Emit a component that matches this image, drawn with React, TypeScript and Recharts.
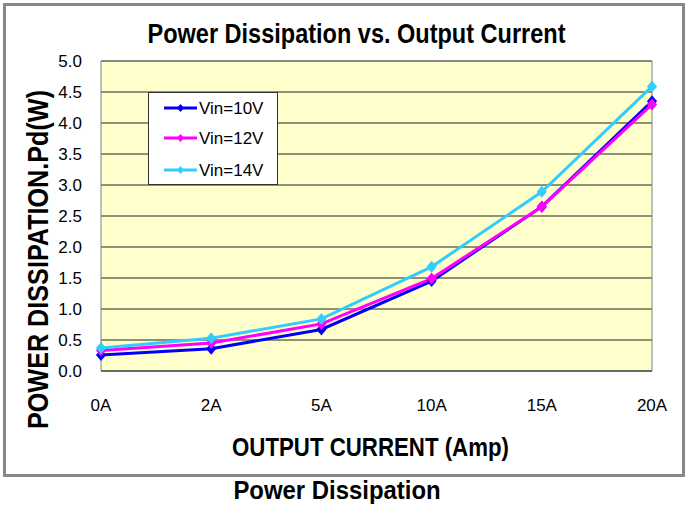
import React from 'react';
import { LineChart, Line, XAxis, YAxis, CartesianGrid, Legend, ReferenceLine } from 'recharts';

const categories = ['0A', '2A', '5A', '10A', '15A', '20A'];
const vin10 = [0.26, 0.36, 0.67, 1.45, 2.65, 4.35];
const vin12 = [0.33, 0.45, 0.76, 1.49, 2.65, 4.3];
const vin14 = [0.37, 0.53, 0.84, 1.68, 2.89, 4.59];
const yTicks = [0, 0.5, 1, 1.5, 2, 2.5, 3, 3.5, 4, 4.5, 5];

const seriesList = [
  { key: 'v10', name: 'Vin=10V', values: vin10, color: '#0000FF' },
  { key: 'v12', name: 'Vin=12V', values: vin12, color: '#FF00FF' },
  { key: 'v14', name: 'Vin=14V', values: vin14, color: '#33CCFF' },
];

const data = categories.map((c, i) => {
  const row: any = { cat: c };
  seriesList.forEach((s) => { row[s.key] = s.values[i]; });
  return row;
});

const FONT = '"Liberation Sans", Arial, sans-serif';

const makeDiamond = (color: string, r: number) => (props: any) => {
  const { cx, cy, index } = props;
  if (cx == null || cy == null) return <g key={`d-${index}`} />;
  return (
    <polygon
      key={`d-${color}-${index}`}
      points={`${cx},${cy - r} ${cx + r * 0.85},${cy} ${cx},${cy + r} ${cx - r * 0.85},${cy}`}
      fill={color}
      stroke="none"
    />
  );
};

const LegendBox = () => {
  const rows = [16, 46, 78];
  return (
    <div style={{ width: 130, height: 93, background: '#fff', border: '1px solid #333', boxSizing: 'border-box' }}>
      <svg width={128} height={91} style={{ display: 'block' }}>
        {seriesList.map((s, i) => (
          <g key={s.key}>
            <line x1={15} y1={rows[i] - 1} x2={48} y2={rows[i] - 1} stroke={s.color} strokeWidth={3} />
            <polygon
              points={`31.5,${rows[i] - 5} 35,${rows[i] - 1} 31.5,${rows[i] + 3} 28,${rows[i] - 1}`}
              fill={s.color}
            />
            <text x={50} y={rows[i] + 5} fontSize={17} fontFamily={FONT} fill="#000">
              {s.name}
            </text>
          </g>
        ))}
      </svg>
    </div>
  );
};

export default function App() {
  return (
    <div style={{ position: 'absolute', left: 0, top: 0, width: 686, height: 508, background: '#fff', fontFamily: FONT }}>
      <LineChart
        width={686}
        height={508}
        data={data}
        margin={{ top: 61, right: 34, bottom: 97, left: 0 }}
      >
        <CartesianGrid vertical={false} stroke="#222" fill="#FFFFCC" fillOpacity={1} />
        <XAxis
          dataKey="cat"
          height={40}
          axisLine={{ stroke: '#444', strokeWidth: 1 }}
          tickLine={false}
          tickSize={0}
          tickMargin={28}
          tick={{ fontSize: 17, fill: '#000', fontFamily: FONT }}
          interval={0}
        />
        <YAxis
          width={101}
          domain={[0, 5]}
          ticks={yTicks}
          interval={0}
          axisLine={{ stroke: '#808080', strokeWidth: 1 }}
          tickLine={false}
          tickSize={0}
          tickMargin={19}
          tickFormatter={(v: number) => v.toFixed(1)}
          tick={{ fontSize: 17, fill: '#000', fontFamily: FONT }}
        />
        <ReferenceLine y={5} stroke="#808080" strokeWidth={1} ifOverflow="visible" />
        <ReferenceLine x="20A" stroke="#808080" strokeWidth={1} ifOverflow="visible" />
        <Legend
          layout="vertical"
          align="center"
          verticalAlign="middle"
          content={() => <LegendBox />}
          wrapperStyle={{ left: 148, top: 92, width: 130, height: 93, margin: 0, padding: 0 }}
        />
        {seriesList.map((s) => (
          <Line
            key={s.key}
            type="linear"
            dataKey={s.key}
            name={s.name}
            stroke={s.color}
            strokeWidth={3}
            dot={makeDiamond(s.color, 6)}
            activeDot={false}
            isAnimationActive={false}
          />
        ))}
      </LineChart>
      <svg
        width={686}
        height={508}
        style={{ position: 'absolute', left: 0, top: 0, pointerEvents: 'none' }}
      >
        <rect x={4.5} y={4.5} width={679} height={471} fill="none" stroke="#888" strokeWidth={3} />
        <text
          transform="translate(356.5,43) scale(0.84,1)"
          textAnchor="middle"
          fontSize={28}
          fontWeight="bold"
          fontFamily={FONT}
          fill="#000"
        >
          Power Dissipation  vs.  Output Current
        </text>
        <text
          transform="translate(48,259.5) rotate(-90) scale(0.84,1)"
          textAnchor="middle"
          fontSize={30}
          fontWeight="bold"
          fontFamily={FONT}
          fill="#000"
        >
          POWER DISSIPATION.Pd(W)
        </text>
        <text
          transform="translate(370.5,456) scale(0.84,1)"
          textAnchor="middle"
          fontSize={26.5}
          fontWeight="bold"
          fontFamily={FONT}
          fill="#000"
        >
          OUTPUT CURRENT (Amp)
        </text>
        <text
          transform="translate(337,499) scale(0.92,1)"
          textAnchor="middle"
          fontSize={26}
          fontWeight="bold"
          fontFamily={FONT}
          fill="#000"
        >
          Power Dissipation
        </text>
      </svg>
    </div>
  );
}
